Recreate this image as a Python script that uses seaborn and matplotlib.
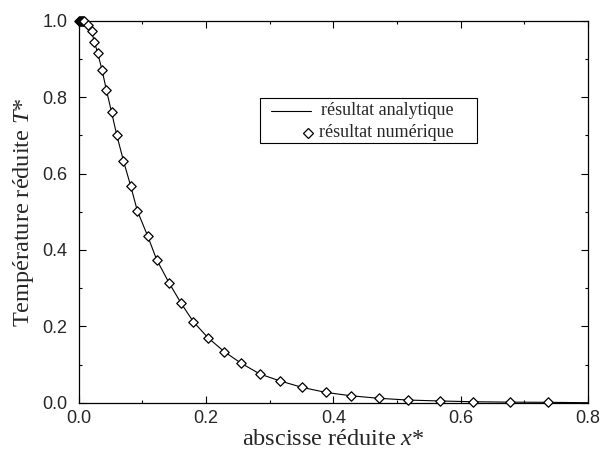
import matplotlib
matplotlib.use("Agg")
import matplotlib.pyplot as plt
from matplotlib.ticker import MultipleLocator
from matplotlib.patches import Rectangle
from matplotlib.lines import Line2D
import seaborn as sns
import pandas as pd

# Numerical result (diamonds)
x_num = [0.0, 0.0015, 0.003, 0.0045, 0.006, 0.0083, 0.0146, 0.0201, 0.0245, 0.0298,
         0.0366, 0.0434, 0.0515, 0.0597, 0.0701, 0.0817, 0.0921, 0.1084, 0.1225,
         0.1418, 0.1602, 0.1800, 0.2031, 0.2287, 0.2554, 0.2848, 0.3162, 0.3512,
         0.3880, 0.4282, 0.4717, 0.5168, 0.5676, 0.6199, 0.6775, 0.7377]
T_num = [1.000, 1.000, 1.000, 0.999, 0.999, 0.998, 0.989, 0.973, 0.945, 0.915,
         0.871, 0.819, 0.761, 0.701, 0.634, 0.567, 0.502, 0.436, 0.374,
         0.314, 0.262, 0.212, 0.170, 0.1335, 0.103, 0.075, 0.057, 0.040,
         0.027, 0.018, 0.0115, 0.007, 0.0045, 0.0025, 0.0015, 0.001]

# Analytical result (solid line)
x_ana = x_num + [0.8]
T_ana = T_num + [0.0]

x_ticks = [0.0, 0.2, 0.4, 0.6, 0.8]
y_ticks = [0.0, 0.2, 0.4, 0.6, 0.8, 1.0]

legend_labels = ["résultat analytique", "résultat numérique"]
x_label = "abscisse réduite $x$*"
y_label = "Température réduite $T$*"

sns.set_style("white")
plt.rcParams["font.family"] = ["Liberation Sans", "DejaVu Sans"]
plt.rcParams["mathtext.fontset"] = "custom"
plt.rcParams["mathtext.rm"] = "Liberation Serif"
plt.rcParams["mathtext.it"] = "Liberation Serif:italic"

df_num = pd.DataFrame({"x": x_num, "T": T_num})
df_ana = pd.DataFrame({"x": x_ana, "T": T_ana})

fig = plt.figure(figsize=(6.01, 4.5), dpi=100)
ax = fig.add_axes([0.1310, 0.1051, 0.8474, 0.8489])

sns.lineplot(data=df_ana, x="x", y="T", ax=ax, color="black", linewidth=0.8,
             sort=False, estimator=None, zorder=2)
sns.scatterplot(data=df_num, x="x", y="T", ax=ax, marker="D", s=23,
                facecolor="white", edgecolor="black", linewidth=0.9,
                zorder=3, clip_on=False)

ax.set_xlim(0, 0.8)
ax.set_ylim(0, 1.0)
ax.set_xticks(x_ticks)
ax.set_yticks(y_ticks)
ax.xaxis.set_minor_locator(MultipleLocator(0.1))
ax.yaxis.set_minor_locator(MultipleLocator(0.1))
ax.tick_params(which="both", direction="in", top=True, right=True,
               bottom=True, left=True, color="black", width=0.8)
ax.tick_params(which="major", length=5, labelsize=13)
ax.tick_params(which="minor", length=2.5)
ax.tick_params(axis="y", pad=8)
ax.tick_params(axis="x", pad=5)
for sp in ax.spines.values():
    sp.set_color("black")
    sp.set_linewidth(0.9)
    sp.set_visible(True)

ax.set_xlabel(x_label, family="Liberation Serif", fontsize=17.5, labelpad=2)
ax.set_ylabel(y_label, family="Liberation Serif", fontsize=17.5, labelpad=5)

# Legend box (drawn in axes coordinates)
ax.add_patch(Rectangle((0.3567, 0.681), 0.4259, 0.116, transform=ax.transAxes,
                       facecolor="white", edgecolor="black", linewidth=0.8, zorder=4))
ax.add_line(Line2D([0.377, 0.4555], [0.764, 0.764], transform=ax.transAxes,
                   color="black", linewidth=0.8, zorder=5))
ax.add_line(Line2D([0.451], [0.707], transform=ax.transAxes, marker="D",
                   markersize=4.8, markerfacecolor="white", markeredgecolor="black",
                   markeredgewidth=0.9, linestyle="none", zorder=5))
ax.text(0.7355, 0.764, legend_labels[0], transform=ax.transAxes, ha="right",
        va="center", family="Liberation Serif", fontsize=13, zorder=5)
ax.text(0.7355, 0.707, legend_labels[1], transform=ax.transAxes, ha="right",
        va="center", family="Liberation Serif", fontsize=13, zorder=5)

fig.savefig("out.png", dpi=100)
